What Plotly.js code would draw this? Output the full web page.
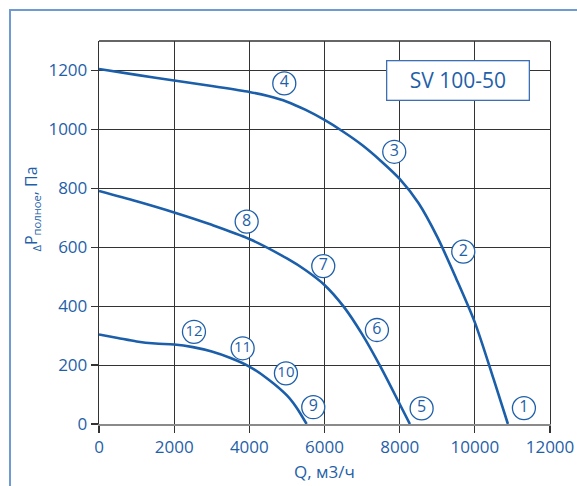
<!DOCTYPE html>
<html>
<head>
<meta charset="utf-8">
<script src="https://cdn.plot.ly/plotly-3.0.1.min.js"></script>
<style>
html,body{margin:0;padding:0;background:#fff;}
#chart{width:577px;height:486px;}
#frame{position:absolute;left:9px;top:9px;width:600px;height:520px;border-top:2px solid #6f9bd3;border-left:2px solid #6f9bd3;pointer-events:none;}
</style>
</head>
<body>
<div id="chart"></div>
<div id="frame"></div>
<script>
// Fan curves: Q (m3/h) vs total pressure (Pa)
const curveHighQ = [0, 1000, 2000, 3000, 4000, 4500, 5000, 5500, 6000, 6500, 7000, 7500, 8000, 8500, 9000, 9500, 10000, 10500, 10880];
const curveHighP = [1205, 1185, 1166, 1147, 1127, 1113, 1094, 1066, 1032, 992, 947, 893, 832, 750, 635, 495, 345, 152, 0];

const curveMidQ = [0, 1000, 2000, 3000, 4000, 5000, 5500, 6000, 6500, 7000, 7500, 8000, 8272];
const curveMidP = [791, 756, 718, 676, 628, 562, 522, 472, 400, 305, 192, 68, 0];

const curveLowQ = [0, 500, 1000, 1500, 2000, 2500, 3000, 3500, 4000, 4500, 5000, 5250, 5524];
const curveLowP = [304, 292, 280, 273, 270, 261, 246, 224, 195, 152, 97, 57, 0];

// Circled point labels
const labelText = ['1','2','3','4','5','6','7','8','9','10','11','12'];
const labelQ = [11306, 9692, 7856, 4930, 8584, 7395, 5967, 3929, 5701, 4974, 3822, 2527];
const labelP = [54, 585, 924, 1156, 53, 319, 536, 687, 57, 172, 257, 313];

const xTicks = [0, 2000, 4000, 6000, 8000, 10000, 12000];
const yTicks = [0, 200, 400, 600, 800, 1000, 1200];

const modelName = 'SV 100-50';
const modelQ = 9550, modelP = 1167;

const blue = '#1f5fa9';
const lineBlue = '#1b5ea9';
const font = '"Open Sans", "Noto Sans", sans-serif';

const curveStyle = {mode: 'lines', line: {color: lineBlue, width: 2.6, shape: 'spline', smoothing: 0.8}, hoverinfo: 'skip', showlegend: false};

const traces = [
  Object.assign({x: curveHighQ, y: curveHighP, type: 'scatter'}, curveStyle),
  Object.assign({x: curveMidQ, y: curveMidP, type: 'scatter'}, curveStyle),
  Object.assign({x: curveLowQ, y: curveLowP, type: 'scatter'}, curveStyle),
  {
    x: labelQ, y: labelP, type: 'scatter', mode: 'markers+text',
    text: labelText, textposition: 'middle center',
    textfont: {family: font, size: labelText.map(t => t.length > 1 ? 15 : 16), color: blue},
    marker: {symbol: 'circle', size: 23, color: '#ffffff', line: {color: blue, width: 1.3}},
    showlegend: false, hoverinfo: 'skip', cliponaxis: false
  }
];

const layout = {
  width: 577, height: 486,
  margin: {l: 99, r: 27, t: 41, b: 62},
  paper_bgcolor: '#ffffff', plot_bgcolor: '#ffffff',
  font: {family: font, color: blue, size: 17},
  showlegend: false,
  xaxis: {
    range: [0, 12000], tickvals: xTicks, ticktext: xTicks.map(String),
    showgrid: true, gridcolor: '#333333', gridwidth: 1.1,
    zeroline: false, showline: true, linecolor: '#8a8a8a', linewidth: 2, mirror: false,
    ticks: 'outside', ticklen: 7, tickcolor: '#333333', tickwidth: 1.2,
    tickfont: {family: font, size: 17, color: blue},
    fixedrange: true
  },
  yaxis: {
    range: [0, 1300], tickvals: yTicks, ticktext: yTicks.map(String),
    showgrid: true, gridcolor: '#333333', gridwidth: 1.1,
    zeroline: false, showline: true, linecolor: '#333333', linewidth: 1.3, mirror: true,
    ticks: 'outside', ticklen: 7, tickcolor: '#333333', tickwidth: 1.2,
    tickfont: {family: font, size: 17, color: blue},
    fixedrange: true
  },
  shapes: [
    {type: 'line', xref: 'paper', yref: 'paper', x0: 0, x1: 1, y0: 1, y1: 1, line: {color: '#333333', width: 1.5}, layer: 'below'}
  ],
  annotations: [
    {xref: 'x', yref: 'y', x: modelQ, y: modelP, text: modelName, showarrow: false,
     font: {family: font, size: 21, color: blue}, bgcolor: '#ffffff', bordercolor: '#3d6fb4', borderwidth: 1.3,
     width: 139, height: 36, align: 'center', valign: 'middle'},
    {xref: 'paper', yref: 'paper', x: 0.5, y: -0.123, xanchor: 'center', yanchor: 'middle',
     text: 'Q, м3/ч', showarrow: false, font: {family: font, size: 17, color: blue}},
    {xref: 'paper', yref: 'paper', x: -0.15, y: 0.561, xanchor: 'center', yanchor: 'middle', textangle: -90,
     text: '<sub>Δ</sub>P<sub>полное</sub>, Па', showarrow: false, font: {family: font, size: 16, color: blue}}
  ]
};

Plotly.newPlot('chart', traces, layout, {displayModeBar: false, staticPlot: true});
</script>
</body>
</html>
